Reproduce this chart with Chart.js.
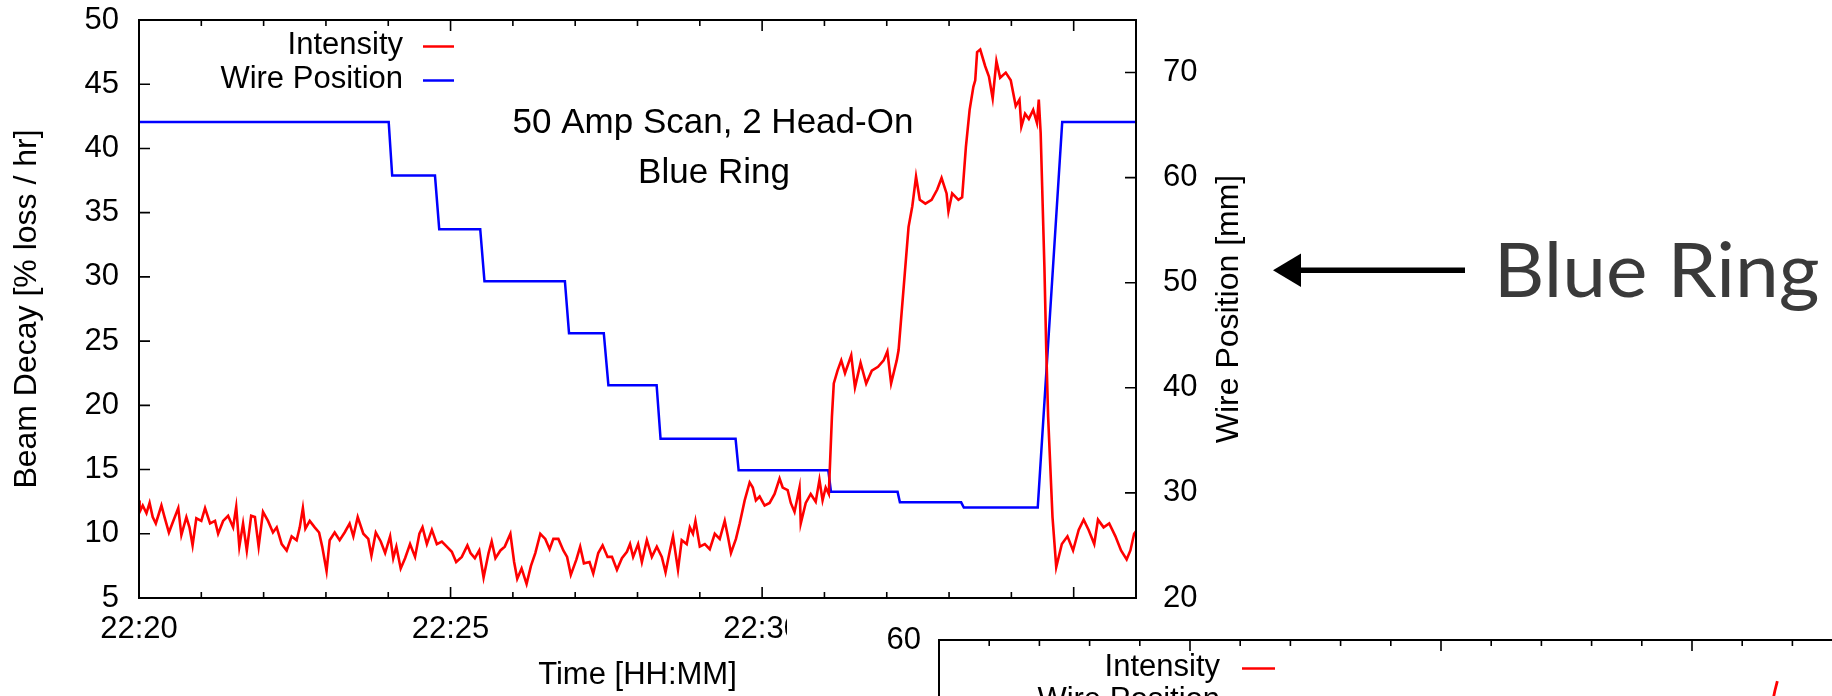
<!DOCTYPE html>
<html><head><meta charset="utf-8">
<script src="https://cdn.jsdelivr.net/npm/chart.js@4.4.0/dist/chart.umd.min.js"></script>
<style>
html,body{margin:0;padding:0;background:#fff;overflow:hidden;width:1832px;height:696px;}
#c1{position:absolute;left:0;top:0;}
#wrap2{position:absolute;left:787px;top:614px;width:1045px;height:82px;overflow:hidden;background:#fff;}
#c2{position:absolute;left:0;top:0;}
</style></head><body>
<canvas id="c1" width="1832" height="696"></canvas>
<div id="wrap2"><canvas id="c2" width="1200" height="600"></canvas></div>
<script>
// ---------- data (minutes after 22:20) ----------
const intensityT = [0.00,0.01,0.06,0.12,0.17,0.22,0.27,0.36,0.41,0.48,0.55,0.63,0.68,0.76,0.81,0.86,0.92,1.00,1.06,1.14,1.22,1.27,1.35,1.43,1.51,1.56,1.61,1.67,1.73,1.80,1.86,1.92,1.99,2.07,2.15,2.21,2.29,2.37,2.45,2.53,2.58,2.63,2.67,2.74,2.82,2.89,2.94,3.01,3.06,3.14,3.22,3.30,3.38,3.44,3.51,3.60,3.68,3.73,3.80,3.88,3.95,4.03,4.08,4.13,4.20,4.27,4.35,4.43,4.50,4.55,4.62,4.70,4.78,4.86,4.94,5.02,5.09,5.18,5.27,5.32,5.39,5.46,5.53,5.61,5.66,5.72,5.80,5.87,5.96,6.02,6.07,6.14,6.22,6.29,6.36,6.44,6.52,6.59,6.65,6.73,6.81,6.87,6.93,7.02,7.08,7.14,7.23,7.29,7.37,7.44,7.52,7.59,7.67,7.75,7.83,7.88,
7.93,8.01,8.07,8.15,8.23,8.31,8.39,8.45,8.52,8.57,8.65,8.71,8.79,8.84,8.89,8.93,9.00,9.08,9.16,9.24,9.32,9.40,9.45,9.50,9.58,9.64,9.72,9.80,9.85,9.90,9.96,10.04,10.12,10.20,10.28,10.33,10.41,10.46,10.52,10.60,10.62,10.70,10.78,10.86,10.92,10.97,11.02,11.07,
11.12,11.15,11.21,11.27,11.33,11.43,11.49,11.58,11.67,11.76,11.86,11.95,12.01,12.07,12.16,12.19,
12.29,12.35,12.41,12.47,12.53,12.62,12.72,12.81,12.88,12.96,12.99,13.05,13.15,13.21,13.27,13.33,13.39,13.42,13.45,13.50,13.58,13.64,13.70,13.76,13.82,13.91,13.99,14.07,14.13,14.16,14.22,14.28,14.35,14.41,14.44,14.47,14.53,14.56,14.59,14.66,14.72,14.81,14.90,14.99,15.08,15.16,15.24,15.33,15.39,15.48,15.57,15.67,15.76,15.85,15.91,15.97,16.00];
const intensityV = [12.6,11.7,12.2,11.6,12.4,11.3,10.8,12.2,11.3,10.1,11.0,12.0,9.9,11.3,10.5,9.1,11.2,11.0,12.0,10.8,11.0,10.0,11.0,11.4,10.5,12.1,9.0,10.8,8.7,11.4,11.3,9.0,11.7,11.0,10.1,10.5,9.2,8.7,9.8,9.5,10.5,12.0,10.4,11.0,10.5,10.1,9.0,7.1,9.5,10.1,9.5,10.1,10.8,9.8,11.3,10.0,9.6,8.3,10.1,9.4,8.5,9.8,8.1,9.0,7.3,8.1,9.2,8.2,10.0,10.5,9.2,10.3,9.2,9.4,9.0,8.6,7.8,8.2,9.1,8.5,8.1,8.7,6.6,8.5,9.4,8.1,8.7,9.0,10.0,7.8,6.5,7.3,6.1,7.5,8.5,10.0,9.6,8.8,9.6,9.6,8.7,8.2,6.8,8.0,9.0,7.7,7.8,6.9,8.5,9.1,8.2,8.2,7.2,8.1,8.6,9.2,
8.2,9.2,7.8,9.5,8.2,9.0,8.2,7.0,8.7,9.8,7.2,9.5,9.2,10.5,10.0,11.0,9.0,9.2,8.8,10.0,9.6,11.0,9.8,8.5,9.6,10.8,12.6,14.0,13.6,12.6,12.9,12.2,12.4,13.1,14.3,13.6,13.4,12.4,11.7,13.6,10.8,12.4,13.1,12.5,14.2,12.6,13.6,13.1,
19.1,21.7,22.7,23.5,22.5,23.9,21.4,23.3,21.7,22.7,23.0,23.5,24.2,21.7,23.5,24.3,
30.3,33.9,35.5,37.8,36.0,35.7,36.0,36.8,37.7,36.5,35.1,36.5,36.0,36.2,40.1,43.0,44.8,45.3,47.5,47.7,46.4,45.6,43.9,46.8,45.5,45.9,45.3,43.3,43.8,41.7,42.7,42.3,43.0,42.0,43.8,41.2,30.8,24.3,19.1,11.3,7.4,9.2,9.8,8.7,10.3,11.1,10.3,9.2,11.1,10.5,10.8,9.8,8.7,8.0,8.7,10.0,10.2];
const wireT = [0,4.007,4.063,4.750,4.818,5.476,5.544,6.835,6.901,7.459,7.533,8.307,8.370,9.574,9.623,11.062,11.105,12.174,12.211,13.194,13.237,14.423,14.816,16];
const wireV = [65.3,65.3,60.2,60.2,55.1,55.1,50.15,50.15,45.2,45.2,40.25,40.25,35.15,35.15,32.15,32.15,30.1,30.1,29.1,29.1,28.6,28.6,65.3,65.3];
const xTickValues = [0,5,10,15];
const xTickLabels = ['22:20','22:25','22:30','22:35'];
const yTickValues = [5,10,15,20,25,30,35,40,45,50];
const y2TickValues = [20,30,40,50,60,70];
const seriesLabels = ['Intensity','Wire Position'];
const titleLines = ['50 Amp Scan, 2 Head-On','Blue Ring'];
const axisTitles = {x:'Time [HH:MM]', y:'Beam Decay [% loss / hr]', y2:'Wire Position [mm]'};
const sideLabel = 'Blue Ring';
// second (partially visible) chart
const second_T = [16.57,16.65,16.70];
const second_V = [51.8,54.05,55.2];
const secondYTicks = [0,10,20,30,40,50,60];

const FONT = "'Liberation Sans', Arial, Helvetica, sans-serif";
const RED = '#ff0000', BLUE = '#0000ff';

function toXY(t, v){ return t.map((x,i)=>({x, y:v[i]})); }
function noPad(s){ s.paddingTop = 0; s.paddingBottom = 0; s.paddingLeft = 0; s.paddingRight = 0; }

function drawFrameTicks(chart, o){
  const {ctx, chartArea:a, scales} = chart;
  ctx.save();
  ctx.strokeStyle = '#000';
  ctx.lineWidth = 2;
  ctx.strokeRect(a.left, a.top, a.right-a.left, a.bottom-a.top);
  ctx.lineWidth = 1.6;
  ctx.beginPath();
  for (let m = o.xMin; m <= o.xMax; m++){
    const px = scales.x.getPixelForValue(m);
    const len = (m % 5 === 0) ? 11 : 6;
    ctx.moveTo(px, a.bottom); ctx.lineTo(px, a.bottom-len);
    ctx.moveTo(px, a.top); ctx.lineTo(px, a.top+len);
  }
  for (const v of o.yTicks){
    const py = scales.y.getPixelForValue(v);
    ctx.moveTo(a.left, py); ctx.lineTo(a.left+11, py);
  }
  if (o.y2Ticks){
    for (const v of o.y2Ticks){
      const py = scales.y2.getPixelForValue(v);
      ctx.moveTo(a.right, py); ctx.lineTo(a.right-11, py);
    }
  }
  ctx.stroke();
  ctx.restore();
}

function drawLegend(chart, o){
  const {ctx, chartArea:a} = chart;
  ctx.save();
  ctx.font = '31px ' + FONT;
  ctx.textAlign = 'right';
  ctx.textBaseline = 'middle';
  chart.data.datasets.forEach((ds,i)=>{
    const y = a.top + o.row0 + i*o.rowGap;
    ctx.fillStyle = '#000';
    ctx.fillText(ds.label, a.left + o.textRight, y);
    ctx.strokeStyle = ds.borderColor;
    ctx.lineWidth = 2.5;
    ctx.beginPath();
    ctx.moveTo(a.left + o.line0, y+1.5); ctx.lineTo(a.left + o.line1, y+1.5);
    ctx.stroke();
  });
  ctx.restore();
}

const mainPlugin = {
  id:'mainDeco',
  afterDatasetsDraw(chart){
    drawFrameTicks(chart, {xMin:0, xMax:16, yTicks:yTickValues, y2Ticks:y2TickValues});
    drawLegend(chart, {textRight:264, line0:284, line1:315, row0:25, rowGap:34});
    const ctx = chart.ctx;
    ctx.save();
    // annotation title
    ctx.fillStyle = '#000';
    ctx.font = '35px ' + FONT;
    ctx.textAlign = 'center';
    ctx.textBaseline = 'middle';
    ctx.fillText(titleLines[0], 713, 123);
    ctx.fillText(titleLines[1], 714, 173);
    // right axis title (reads bottom to top)
    ctx.save();
    ctx.translate(1229, 309);
    ctx.rotate(-Math.PI/2);
    ctx.font = '32px ' + FONT;
    ctx.fillText(axisTitles.y2, 0, 0);
    ctx.restore();
    // arrow
    ctx.fillStyle = '#000';
    ctx.fillRect(1296, 267.5, 169, 5.5);
    ctx.beginPath();
    ctx.moveTo(1273, 270.2); ctx.lineTo(1301, 253.5); ctx.lineTo(1301, 287); ctx.closePath();
    ctx.fill();
    // side label, fitted to ink box x 1500..1818, baseline 297
    ctx.fillStyle = '#3a3a3a';
    ctx.font = '400 76px Lato, "Open Sans", sans-serif';
    ctx.textAlign = 'left';
    ctx.textBaseline = 'alphabetic';
    const mt = ctx.measureText(sideLabel);
    const ink = mt.actualBoundingBoxLeft + mt.actualBoundingBoxRight;
    const sx = Math.min(1.15, Math.max(0.85, 318 / ink));
    ctx.translate(1500, 297);
    ctx.scale(sx, 1);
    ctx.fillText(sideLabel, mt.actualBoundingBoxLeft, 0);
    ctx.restore();
  }
};

new Chart(document.getElementById('c1'), {
  type:'line',
  data:{datasets:[
    {label:seriesLabels[0], data:toXY(intensityT,intensityV), yAxisID:'y', borderColor:RED, borderWidth:2.6, pointRadius:0, tension:0},
    {label:seriesLabels[1], data:toXY(wireT,wireV), yAxisID:'y2', borderColor:BLUE, borderWidth:2.5, pointRadius:0, tension:0}
  ]},
  options:{
    responsive:false, animation:false, devicePixelRatio:1,
    layout:{padding:{top:20,left:0,right:596,bottom:0}},
    plugins:{legend:{display:false}, tooltip:{enabled:false}},
    scales:{
      x:{type:'linear', min:0, max:16, position:'bottom',
        grid:{display:false, drawTicks:false}, border:{display:false},
        afterBuildTicks:s=>{ s.ticks = xTickValues.map(v=>({value:v})); },
        afterFit:s=>{ s.height = 98; noPad(s); },
        ticks:{font:{family:FONT,size:31}, color:'#000', padding:13, maxRotation:0, autoSkip:false,
          callback:(v)=>{ const i = xTickValues.indexOf(v); return i>=0 ? xTickLabels[i] : ''; }},
        title:{display:true, text:axisTitles.x, font:{family:FONT,size:31}, color:'#000', padding:{top:0,bottom:2}}
      },
      y:{type:'linear', min:5, max:50, position:'left',
        grid:{display:false, drawTicks:false}, border:{display:false},
        afterBuildTicks:s=>{ s.ticks = yTickValues.map(v=>({value:v})); },
        afterFit:s=>{ s.width = 139; noPad(s); },
        ticks:{font:{family:FONT,size:31}, color:'#000', padding:20},
        title:{display:true, text:axisTitles.y, font:{family:FONT,size:32}, color:'#000', padding:{top:8,bottom:0}}
      },
      y2:{type:'linear', min:20, max:75, position:'right',
        grid:{display:false, drawTicks:false}, border:{display:false},
        afterBuildTicks:s=>{ s.ticks = y2TickValues.map(v=>({value:v})); },
        afterFit:s=>{ s.width = 100; noPad(s); },
        ticks:{font:{family:FONT,size:31}, color:'#000', padding:27}
      }
    }
  },
  plugins:[mainPlugin]
});

const secondPlugin = {
  id:'secondDeco',
  afterDatasetsDraw(chart){
    drawFrameTicks(chart, {xMin:0, xMax:20, yTicks:secondYTicks});
    drawLegend(chart, {textRight:281, line0:303, line1:336, row0:27, rowGap:33});
  }
};

new Chart(document.getElementById('c2'), {
  type:'line',
  data:{datasets:[
    {label:seriesLabels[0], data:toXY(second_T,second_V), yAxisID:'y', borderColor:RED, borderWidth:2.8, pointRadius:0, tension:0},
    {label:seriesLabels[1], data:[], yAxisID:'y', borderColor:BLUE, borderWidth:2.5, pointRadius:0}
  ]},
  options:{
    responsive:false, animation:false, devicePixelRatio:1,
    layout:{padding:{top:26,left:0,right:44,bottom:0}},
    plugins:{legend:{display:false}, tooltip:{enabled:false}},
    scales:{
      x:{type:'linear', min:0, max:20, grid:{display:false, drawTicks:false}, border:{display:false},
        afterFit:s=>{ s.height = 60; noPad(s); }, ticks:{display:false}},
      y:{type:'linear', min:0, max:60, grid:{display:false, drawTicks:false}, border:{display:false},
        afterBuildTicks:s=>{ s.ticks = secondYTicks.map(v=>({value:v})); },
        afterFit:s=>{ s.width = 152; noPad(s); },
        ticks:{font:{family:FONT,size:31}, color:'#000', padding:18}}
    }
  },
  plugins:[secondPlugin]
});
</script></body></html>
